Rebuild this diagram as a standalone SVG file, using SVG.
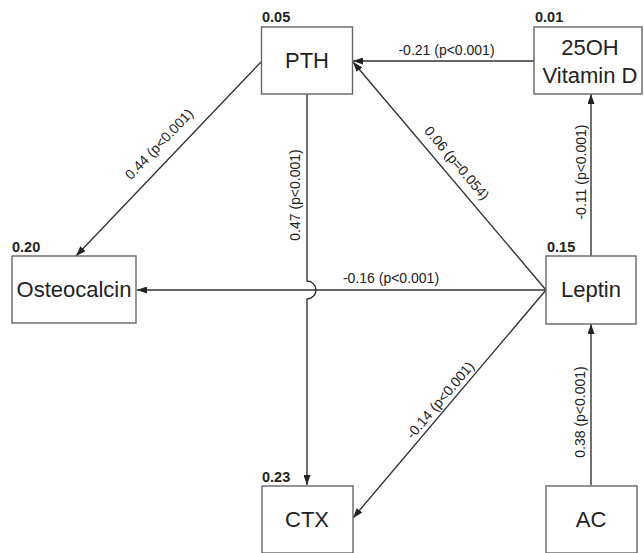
<svg xmlns="http://www.w3.org/2000/svg" width="644" height="553" viewBox="0 0 644 553">
<defs>
<style>
.box{fill:#fff;stroke:#666;stroke-width:1.4}
.nt{font-family:"Liberation Sans",Arial,sans-serif;font-size:22px;fill:#222;text-anchor:middle}
.r2{font-family:"Liberation Sans",Arial,sans-serif;font-size:14.5px;font-weight:bold;fill:#222}
.el{font-family:"Liberation Sans",Arial,sans-serif;font-size:14px;fill:#222;text-anchor:middle}
.ln{fill:none;stroke:#333;stroke-width:1.4}
</style>
<marker id="ah" viewBox="0 0 10 7" refX="10" refY="3.5" markerWidth="10" markerHeight="7" markerUnits="userSpaceOnUse" orient="auto">
<path d="M0,0 L10,3.5 L0,7 z" fill="#222"/>
</marker>
</defs>
<rect width="644" height="553" fill="#fff"/>
<g id="connectors">
<path class="ln" d="M534,61 L353,61" marker-end="url(#ah)"/>
<path class="ln" d="M261,62 L76,256" marker-end="url(#ah)"/>
<path class="ln" d="M546,290 L353,62" marker-end="url(#ah)"/>
<path class="ln" d="M307,94 L307,281 A9,9 0 0 1 307,299 L307,485" marker-end="url(#ah)"/>
<path class="ln" d="M546,290 L137,290" marker-end="url(#ah)"/>
<path class="ln" d="M546,290 L353,518" marker-end="url(#ah)"/>
<path class="ln" d="M591,256 L591,94" marker-end="url(#ah)"/>
<path class="ln" d="M591,485 L591,324" marker-end="url(#ah)"/>
<text class="el" x="446.5" y="55">-0.21 (p&lt;0.001)</text>
<text class="el" x="391" y="283">-0.16 (p&lt;0.001)</text>
<text class="el" transform="translate(159,144) rotate(-46.4)" y="5">0.44 (p&lt;0.001)</text>
<text class="el" transform="translate(295,195) rotate(-90)" y="5">0.47 (p&lt;0.001)</text>
<text class="el" transform="translate(457,163) rotate(49.7)" y="5">0.06 (p=0.054)</text>
<text class="el" transform="translate(581,172) rotate(-90)" y="5">-0.11 (p&lt;0.001)</text>
<text class="el" transform="translate(440,400) rotate(-49.7)" y="5">-0.14 (p&lt;0.001)</text>
<text class="el" transform="translate(580,412) rotate(-90)" y="5">0.38 (p&lt;0.001)</text>
</g>
<g id="node-pth">
<rect class="box" x="261.5" y="27" width="91" height="67"/>
<text class="r2" x="262" y="22">0.05</text>
<text class="nt" x="307" y="68">PTH</text>
</g>
<g id="node-vitd">
<rect class="box" x="534" y="27" width="108" height="67"/>
<text class="r2" x="535" y="22">0.01</text>
<text class="nt" x="590" y="55">25OH</text>
<text class="nt" x="590" y="83">Vitamin D</text>
</g>
<g id="node-osteocalcin">
<rect class="box" x="12" y="256" width="124" height="67"/>
<text class="r2" x="12" y="252">0.20</text>
<text class="nt" x="74" y="297">Osteocalcin</text>
</g>
<g id="node-leptin">
<rect class="box" x="546" y="256" width="90" height="68"/>
<text class="r2" x="547" y="252">0.15</text>
<text class="nt" x="591" y="297">Leptin</text>
</g>
<g id="node-ctx">
<rect class="box" x="262" y="486" width="91" height="67"/>
<text class="r2" x="262" y="482">0.23</text>
<text class="nt" x="307" y="527">CTX</text>
</g>
<g id="node-ac">
<rect class="box" x="546" y="486" width="91" height="67"/>
<text class="nt" x="591" y="527">AC</text>
</g>
</svg>
